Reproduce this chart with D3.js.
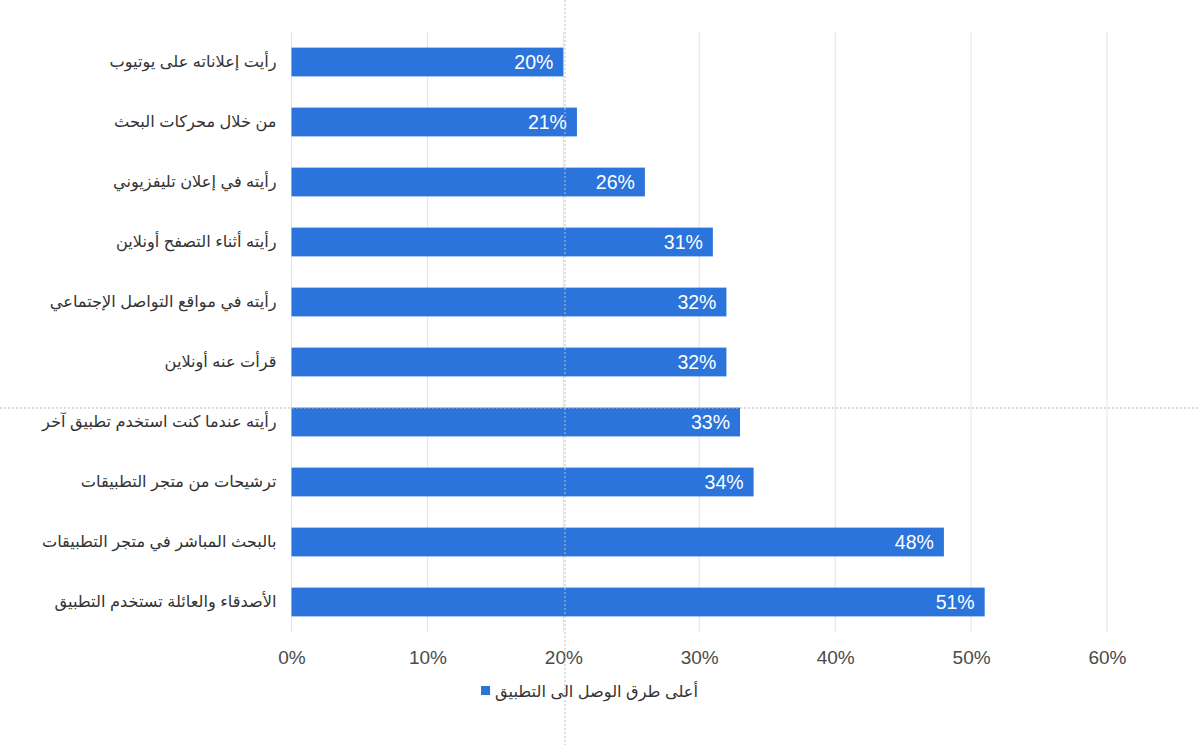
<meta charset="utf-8">

<style>
    body {
        margin: 0;
        background: #ffffff;
    }

    text {
        font-family: "Liberation Sans", Arial, "DejaVu Sans", sans-serif;
    }
</style>

<body>
<script src="https://cdn.jsdelivr.net/npm/d3@7/dist/d3.min.js"></script>
<script>

    // category labels, top to bottom
    const categories = [
        "رأيت إعلاناته على يوتيوب",
        "من خلال محركات البحث",
        "رأيته في إعلان تليفزيوني",
        "رأيته أثناء التصفح أونلاين",
        "رأيته في مواقع التواصل الإجتماعي",
        "قرأت عنه أونلاين",
        "رأيته عندما كنت استخدم تطبيق آخر",
        "ترشيحات من متجر التطبيقات",
        "بالبحث المباشر في متجر التطبيقات",
        "الأصدقاء والعائلة تستخدم التطبيق"
    ];

    const values = [20, 21, 26, 31, 32, 32, 33, 34, 48, 51];

    const xTicks = [0, 10, 20, 30, 40, 50, 60];

    const seriesName = "أعلى طرق الوصل الى التطبيق";

    let width = 1200,
        height = 745;

    let svg = d3.select("body").append("svg")
        .attr("width", width)
        .attr("height", height);

    let xScale = d3.scaleLinear()
        .domain([0, 60])
        .range([291.5, 1107]);

    let yScale = d3.scaleBand()
        .domain(categories)
        .range([32, 632])
        .paddingInner(0.52)
        .paddingOuter(0.26);

    // gridlines
    svg.append("g")
        .selectAll("line")
        .data(xTicks)
        .enter()
        .append("line")
        .attr("x1", d => xScale(d))
        .attr("x2", d => xScale(d))
        .attr("y1", 32)
        .attr("y2", 632)
        .style("stroke", "#e3e3e3")
        .style("stroke-width", 1);

    // x axis labels
    let xAxis = d3.axisBottom(xScale)
        .tickValues(xTicks)
        .tickFormat(d => d + "%")
        .tickSize(0)
        .tickPadding(0);

    let gx = svg.append("g")
        .attr("transform", "translate(0,664)")
        .call(xAxis);
    gx.select(".domain").remove();
    gx.selectAll("text")
        .attr("dy", 0)
        .style("font-size", "19px")
        .style("fill", "#4a4a4a")
        .style("font-family", "'Liberation Sans', Arial, sans-serif");

    // y axis labels
    let yAxis = d3.axisLeft(yScale)
        .tickSize(0)
        .tickPadding(15);

    let gy = svg.append("g")
        .attr("transform", "translate(" + xScale(0) + ",0)")
        .call(yAxis);
    gy.select(".domain").remove();
    gy.selectAll("text")
        .style("font-size", "16.2px")
        .style("fill", "#333333")
        .style("font-family", "'Liberation Sans', 'DejaVu Sans', sans-serif");

    // bars
    svg.append("g")
        .selectAll("rect")
        .data(values)
        .enter()
        .append("rect")
        .attr("x", xScale(0))
        .attr("y", (d, i) => yScale(categories[i]))
        .attr("width", d => xScale(d) - xScale(0))
        .attr("height", yScale.bandwidth())
        .style("fill", "#2a74db");

    // value labels
    svg.append("g")
        .selectAll("text")
        .data(values)
        .enter()
        .append("text")
        .attr("x", d => xScale(d) - 10)
        .attr("y", (d, i) => yScale(categories[i]) + yScale.bandwidth() / 2)
        .attr("dy", "0.36em")
        .attr("text-anchor", "end")
        .style("font-size", "19.5px")
        .style("fill", "#ffffff")
        .text(d => d + "%");

    // legend
    let legend = svg.append("g");
    let legendText = legend.append("text")
        .attr("x", 698)
        .attr("y", 691)
        .attr("dy", "0.35em")
        .attr("text-anchor", "end")
        .style("font-size", "16.2px")
        .style("fill", "#333333")
        .style("font-family", "'Liberation Sans', 'DejaVu Sans', sans-serif")
        .text(seriesName);
    let tw = legendText.node().getComputedTextLength();
    legend.append("rect")
        .attr("x", 698 - tw - 14)
        .attr("y", 686)
        .attr("width", 9)
        .attr("height", 9)
        .style("fill", "#2a74db");

    // cursor crosshair seen in the screenshot
    svg.append("line")
        .attr("x1", 565).attr("x2", 565)
        .attr("y1", 0).attr("y2", height)
        .style("stroke", "#bdbdbd")
        .style("stroke-width", 1)
        .style("stroke-dasharray", "2,2");
    svg.append("line")
        .attr("x1", 0).attr("x2", width)
        .attr("y1", 408).attr("y2", 408)
        .style("stroke", "#bdbdbd")
        .style("stroke-width", 1)
        .style("stroke-dasharray", "2,2");

</script>
